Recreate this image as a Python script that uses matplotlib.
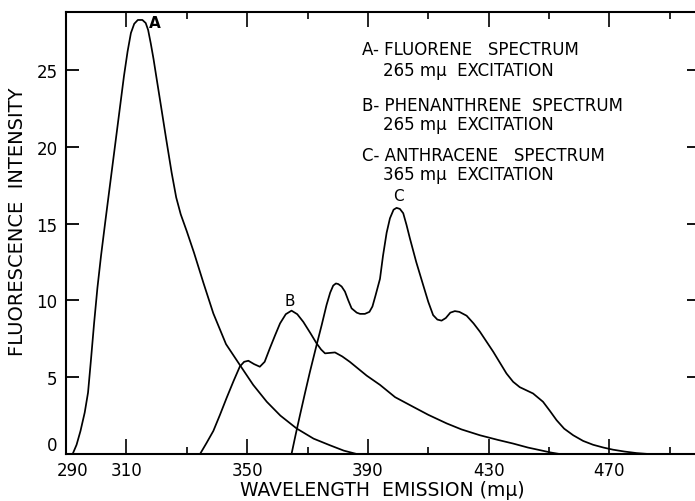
import matplotlib
matplotlib.use("Agg")
import matplotlib.pyplot as plt
from matplotlib.transforms import ScaledTranslation

plt.rcParams['font.family'] = ['DejaVu Sans']

# Emission spectra (wavelength in mμ, relative fluorescence intensity)
fluorene_wl = [292.2, 293.5, 294.8, 296.2, 297.3, 298.3, 299.3, 300.4, 301.6, 303.0,
               304.3, 306.0, 307.7, 309.2, 310.4, 311.5, 312.6, 313.8, 315.3, 316.4,
               317.2, 318.1, 319.0, 319.8, 321.5, 323.1, 325.0, 326.5, 328.0, 330.0,
               332.4, 335.5, 338.8, 343.0, 347.6, 352.0, 356.5, 361.0, 366.4, 372.0,
               377.4, 382.0, 386.3]
fluorene_int = [0.0, 0.6, 1.5, 2.7, 4.0, 6.2, 8.5, 10.8, 12.9, 15.1,
                17.1, 19.7, 22.3, 24.6, 26.2, 27.4, 28.0, 28.25, 28.25, 28.05,
                27.6, 26.7, 25.7, 24.7, 22.6, 20.6, 18.3, 16.7, 15.6, 14.5,
                13.1, 11.15, 9.15, 7.15, 5.79, 4.5, 3.4, 2.5, 1.66, 1.0,
                0.57, 0.22, 0.0]

phenanthrene_wl = [334.4, 336.5, 338.8, 341.0, 343.2, 345.5, 347.6, 349.0, 350.4, 352.3,
                   354.2, 355.8, 357.5, 359.2, 360.9, 362.8, 364.7, 366.6, 368.6, 371.0,
                   373.0, 374.5, 375.8, 377.4, 379.1, 381.5, 384.0, 386.8, 389.6, 394.0,
                   399.0, 405.0, 410.0, 416.1, 421.0, 427.1, 433.0, 438.1, 443.0, 447.0,
                   450.5, 453.5]
phenanthrene_int = [0.0, 0.7, 1.5, 2.55, 3.65, 4.75, 5.7, 6.0, 6.07, 5.85,
                    5.68, 6.0, 6.87, 7.7, 8.5, 9.1, 9.33, 9.1, 8.6, 7.85,
                    7.2, 6.8, 6.55, 6.58, 6.61, 6.35, 6.0, 5.55, 5.1, 4.5,
                    3.7, 3.07, 2.55, 1.99, 1.6, 1.22, 0.92, 0.68, 0.42, 0.25,
                    0.1, 0.0]

anthracene_wl = [364.7, 366.0, 367.5, 369.2, 370.8, 373.0, 374.7, 376.3, 377.5, 378.5,
                 379.4, 380.2, 381.3, 382.4, 383.5, 384.6, 386.3, 387.4, 389.0, 390.5,
                 391.5, 392.5, 394.0, 395.0, 396.2, 397.3, 398.5, 399.5, 400.6, 401.7,
                 402.8, 403.9, 406.0, 408.3, 410.0, 411.6, 413.0, 414.4, 415.8, 417.3,
                 418.8, 420.3, 422.7, 425.0, 427.1, 431.5, 435.9, 438.1, 440.3, 444.7,
                 448.0, 450.3, 452.5, 455.0, 458.0, 461.3, 464.6, 468.0, 471.2, 475.0,
                 479.0, 483.0]
anthracene_int = [0.0, 1.2, 2.53, 4.0, 5.35, 7.09, 8.4, 9.7, 10.5, 10.96,
                  11.1, 11.06, 10.9, 10.57, 10.0, 9.48, 9.2, 9.12, 9.12, 9.25,
                  9.6, 10.3, 11.4, 12.9, 14.4, 15.34, 15.9, 16.02, 15.95, 15.67,
                  14.9, 14.04, 12.5, 11.0, 9.9, 9.04, 8.75, 8.68, 8.85, 9.2,
                  9.3, 9.25, 9.0, 8.5, 7.96, 6.66, 5.24, 4.7, 4.35, 3.94,
                  3.4, 2.8, 2.2, 1.65, 1.22, 0.85, 0.6, 0.42, 0.28, 0.16,
                  0.06, 0.0]

x_major = [290, 310, 350, 390, 430, 470]
x_minor = [330, 370, 410, 450, 490]
y_ticks = [0, 5, 10, 15, 20, 25]

legend_lines = [
    ("A- FLUORENE   SPECTRUM", 0),
    ("265 mμ  EXCITATION", 1),
    ("B- PHENANTHRENE  SPECTRUM", 0),
    ("265 mμ  EXCITATION", 1),
    ("C- ANTHRACENE   SPECTRUM", 0),
    ("365 mμ  EXCITATION", 1),
]

fig = plt.figure(figsize=(6.95, 5.02), dpi=100)
ax = fig.add_axes([66 / 695, 47 / 502, 634 / 695, 442.5 / 502])

line_kw = dict(color='black', lw=1.25, solid_joinstyle='round', solid_capstyle='round')
ax.plot(fluorene_wl, fluorene_int, **line_kw)
ax.plot(phenanthrene_wl, phenanthrene_int, **line_kw)
ax.plot(anthracene_wl, anthracene_int, **line_kw)

ax.set_xlim(290, 500)
ax.set_ylim(0, 28.8)

# curve letters
ax.text(319.5, 28.1, "A", fontsize=11, ha='center', va='center', fontweight='bold')
ax.text(364.2, 10.0, "B", fontsize=11, ha='center', va='center')
ax.text(400.0, 16.85, "C", fontsize=11, ha='center', va='center')

# key
y_rows = [26.35, 24.98, 22.7, 21.47, 19.45, 18.2]
for (txt, indent), yv in zip(legend_lines, y_rows):
    xv = 388.0 if indent == 0 else 395.0
    ax.text(xv, yv, txt, fontsize=12, ha='left', va='center')

ax.set_xticks(x_major)
ax.set_xticks(x_minor, minor=True)
ax.set_xticklabels([str(v) for v in x_major])
ax.set_yticks(y_ticks)
ax.set_yticklabels([str(v) for v in y_ticks])

ax.tick_params(axis='x', which='major', direction='in', length=10.5, width=1.2,
               top=True, bottom=True, labelsize=12, pad=5)
ax.tick_params(axis='x', which='minor', direction='in', length=5, width=1.2,
               top=True, bottom=True)
ax.tick_params(axis='y', which='major', direction='in', length=9.5, width=1.3,
               left=True, right=True, labelsize=12, pad=6)

for s in ax.spines.values():
    s.set_linewidth(1.5)

# the zero label sits on the baseline and the first wavelength label is nudged right
zero_lbl = ax.get_yticklabels()[0]
zero_lbl.set_verticalalignment('bottom')
first_x = ax.get_xticklabels()[0]
first_x.set_transform(first_x.get_transform() +
                      ScaledTranslation(5 / 72, 0, fig.dpi_scale_trans))

fig.text(382 / 695, 1 - 490.5 / 502, "WAVELENGTH  EMISSION (mμ)", fontsize=13.5,
         ha='center', va='center')
fig.text(17.5 / 695, 1 - 222 / 502, "FLUORESCENCE  INTENSITY", fontsize=14,
         rotation=90, ha='center', va='center')

fig.savefig("out.png", dpi=100)
